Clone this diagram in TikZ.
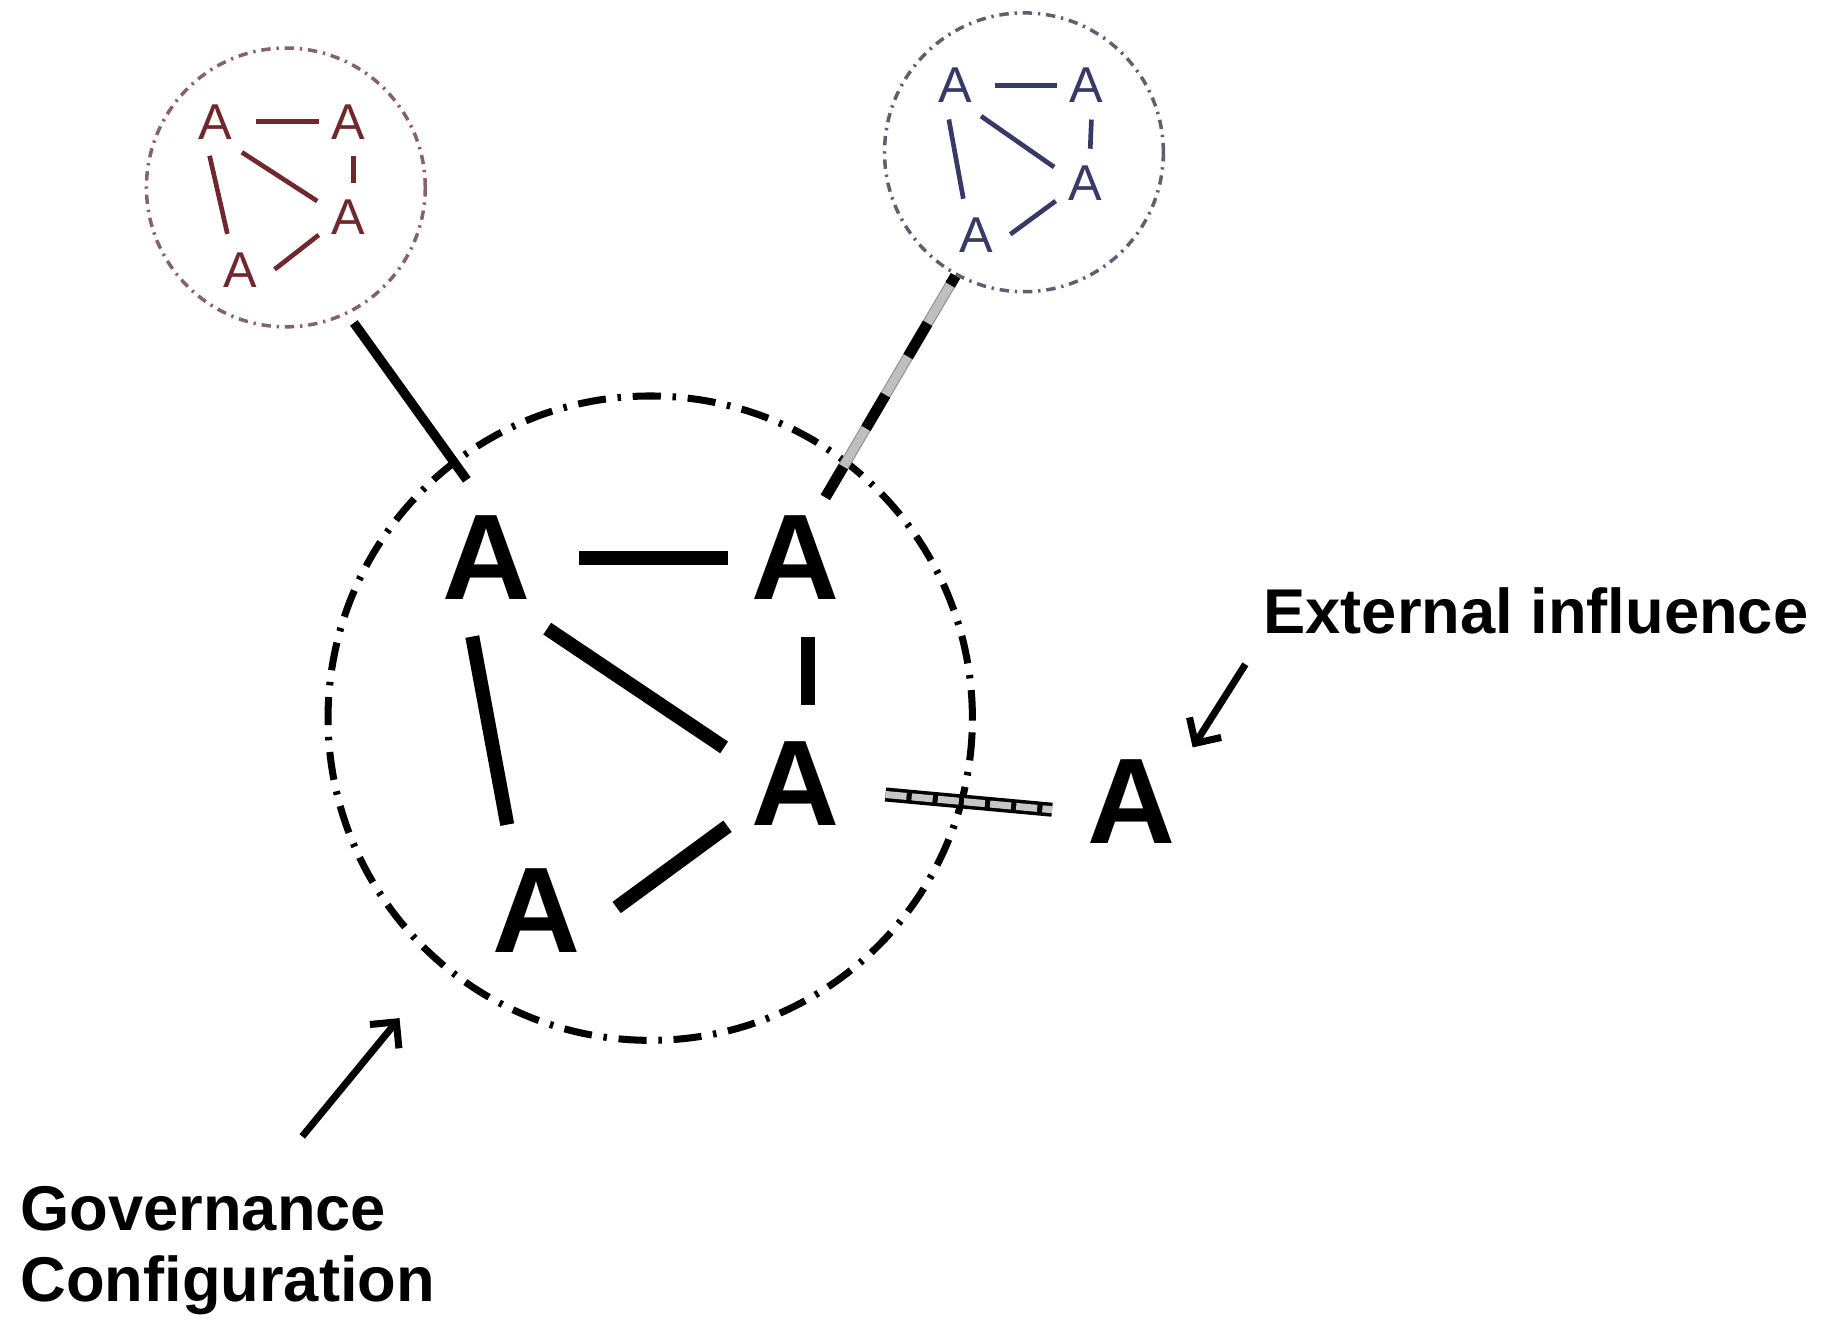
\documentclass[tikz,border=0pt]{standalone}
\usepackage{fontspec}
\setmainfont{Liberation Sans}
\usepackage{tikz}
\usetikzlibrary{arrows.meta}

\definecolor{agentred}{RGB}{112,40,44}
\definecolor{agentblue}{RGB}{55,57,102}
\definecolor{ringred}{RGB}{135,98,102}
\definecolor{ringblue}{RGB}{95,95,112}

\begin{document}
\begin{tikzpicture}[x=0.5pt, y=-0.5pt,
	bigA/.style={circle, inner sep=0pt, minimum size=68pt, font=\fontsize{52}{52}\selectfont\bfseries},
	smallA/.style={circle, inner sep=0pt, minimum size=29pt, font=\fontsize{21.5}{21.5}\selectfont},
	tie/.style={line width=6pt},
	smalltie/.style={line width=2pt},
	govring/.style={circle, draw, inner sep=0pt, minimum size=275pt, line width=3pt, dash pattern=on 12pt off 5pt on 1.5pt off 5pt},
	subring/.style={circle, draw, inner sep=0pt, minimum size=119pt, line width=1.5pt, dash pattern=on 4pt off 2.5pt on 1pt off 2.5pt},
	tagtext/.style={inner sep=0pt, font=\fontsize{27}{30.5}\selectfont\bfseries},
	pointer/.style={-{Straight Barb[length=8pt,width=16pt]}, line width=3pt}]
	\useasboundingbox (0,0) rectangle (1568,1128);

	% rings
	\node[govring] (gov) at (555,613) {};
	\node[subring, draw=ringred] (redring) at (244,160) {};
	\node[subring, draw=ringblue] (bluering) at (874,130) {};

	% main configuration
	\node[bigA] (a1) at (415,476) {A};
	\node[bigA] (a2) at (679,476) {A};
	\node[bigA] (a3) at (679,669) {A};
	\node[bigA] (a4) at (458,777) {A};
	\node[bigA] (ext) at (966,684) {A};

	\draw[tie, shorten <=5.5pt, shorten >=-5.5pt] (a1.0) -- (a2.180);
	\draw[tie, shorten >=4.5pt] (a1.-100) -- (a4.110);
	\draw[tie, shorten <=6pt] (a1.-52) -- (a3.153);
	\draw[tie] (a2.-81) -- (a3.81);
	\draw[tie] (a4.2) -- (a3.-148);

	% red sub-configuration
	\node[smallA, text=agentred] (r1) at (184,104) {A};
	\node[smallA, text=agentred] (r2) at (297,104) {A};
	\node[smallA, text=agentred] (r3) at (297,185) {A};
	\node[smallA, text=agentred] (r4) at (205,231) {A};

	\draw[smalltie, agentred, shorten <=2.4pt, shorten >=-2.4pt] (r1.0) -- (r2.180);
	\draw[smalltie, agentred, shorten >=1.9pt] (r1.-100) -- (r4.110);
	\draw[smalltie, agentred, shorten <=2.6pt] (r1.-52) -- (r3.153);
	\draw[smalltie, agentred] (r2.-81) -- (r3.81);
	\draw[smalltie, agentred] (r4.2) -- (r3.-148);

	% blue sub-configuration
	\node[smallA, text=agentblue] (b1) at (815,73) {A};
	\node[smallA, text=agentblue] (b2) at (927,73) {A};
	\node[smallA, text=agentblue] (b3) at (926,156) {A};
	\node[smallA, text=agentblue] (b4) at (833,201) {A};

	\draw[smalltie, agentblue, shorten <=2.4pt, shorten >=-2.4pt] (b1.0) -- (b2.180);
	\draw[smalltie, agentblue, shorten >=1.9pt] (b1.-100) -- (b4.110);
	\draw[smalltie, agentblue, shorten <=2.6pt] (b1.-52) -- (b3.153);
	\draw[smalltie, agentblue] (b2.-81) -- (b3.81);
	\draw[smalltie, agentblue] (b4.2) -- (b3.-148);

	% links between configurations
	\draw[line width=4pt, shorten <=4.5pt] (redring.-64) -- (a1.104);
	\draw[line width=4.6pt, dash pattern=on 16.5pt off 19pt, dash phase=12pt, shorten >=-5.5pt,
		preaction={draw, solid, gray!85, line width=4.6pt},
		preaction={draw, solid, gray!50, line width=3.6pt}] (bluering.-119) -- (a2.63);
	\draw[line width=6pt, shorten <=4.5pt,
		postaction={draw, gray!45, line width=3pt, dash pattern=on 9pt off 2.2pt}] (a3.-7) -- (ext.-174);

	% labels
	\node[tagtext, anchor=base west] (exttext) at (1078,541) {External influence};
	\node[tagtext, anchor=base west, align=left] (govtext) at (17,1111) {Governance\\Configuration};

	\coordinate (exttail) at (1063,567);
	\coordinate (exttip) at (1018,638);
	\coordinate (govtail) at (258,970);
	\coordinate (govtip) at (341,869);
	\draw[pointer] (exttail) -- (exttip);
	\draw[pointer] (govtail) -- (govtip);
\end{tikzpicture}
\end{document}
